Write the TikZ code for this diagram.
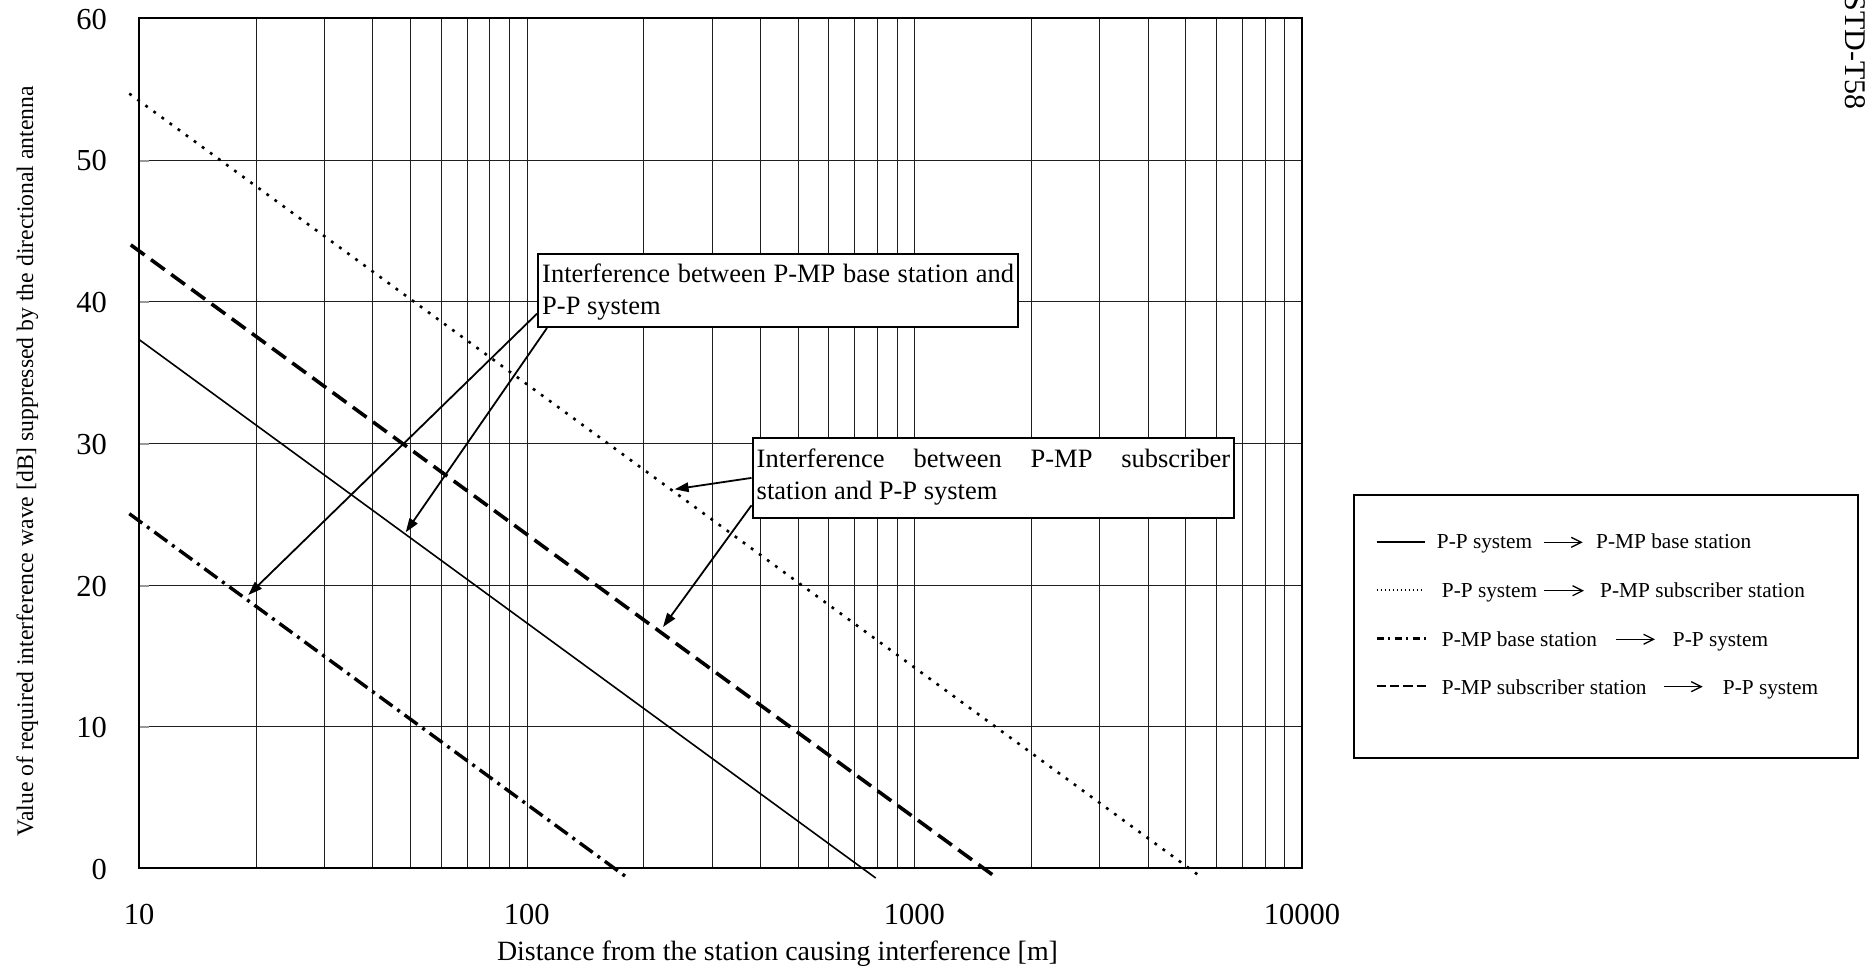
\documentclass[tikz,border=0pt]{standalone}
\usepackage{fontspec}
\setmainfont{Liberation Serif}
\usetikzlibrary{arrows.meta,calc}
\begin{document}
\begin{tikzpicture}[x=1pt,y=-1pt,
  gridline/.style={line width=1.25pt, black!88},
  framebox/.style={line width=2.4pt},
  tickstub/.style={line width=2pt, black!40},
  ticklbl/.style={inner sep=0pt, font=\fontsize{30.5}{36}\selectfont},
  notebox/.style={draw, line width=2pt, fill=white, inner ysep=0pt, inner xsep=4.2pt,
    align=left, anchor=north west, font=\fontsize{26.5}{31.6}\selectfont},
  callout/.style={line width=1.8pt, -{Triangle[length=14pt,width=9.5pt]}},
  curvePPbase/.style={line width=1.6pt},
  curvePPsub/.style={line width=2.6pt, dash pattern=on 2.8pt off 7.2pt},
  curveMPbase/.style={line width=3.4pt, dash pattern=on 16pt off 6pt on 3pt off 6pt},
  curveMPsub/.style={line width=3.6pt, dash pattern=on 17pt off 8pt},
  lgtext/.style={inner sep=0pt, anchor=base west, font=\fontsize{21.3}{25}\selectfont},
  lgarrow/.style={line width=1.3pt, -{Straight Barb[length=10pt,width=10pt]}},
]
\useasboundingbox (0,0) rectangle (1865,971);

% logarithmic grid: 10 .. 10000 m, three decades of 387.7 units,
% lines placed on pixel centres so they all render alike
\foreach \e in {0,1,2}{
  \foreach \m in {1,...,9}{
    \pgfmathsetmacro\gx{round(139+387.7*(\e+log10(\m)))+0.5}
    \draw[gridline] (\gx,17.8) -- (\gx,868);
  }
}
\foreach \v in {10,20,...,50}{
  \pgfmathsetmacro\gy{round(868-14.17*\v)+0.5}
  \draw[gridline] (139,\gy) -- (1302.1,\gy);
  \draw[tickstub] (139,\gy) -- (149,\gy);
}
\draw[framebox] (139,17.8) rectangle (1302.1,868);

% axis numbers
\foreach \v in {0,10,...,60}{
  \node[ticklbl, anchor=east] (yl\v) at (107,{869.5-14.17*\v}) {\v};
}
\foreach \e/\t in {0/10,1/100,2/1000,3/10000}{
  \node[ticklbl] (xl\e) at ({139+387.7*\e},914) {\t};
}

% axis titles
\node[inner sep=0pt, anchor=base, font=\fontsize{27.9}{33}\selectfont] (xtitle)
  at (777.5,960) {Distance from the station causing interference [m]};
\node[inner sep=0pt, anchor=base, rotate=90, font=\fontsize{23.7}{28}\selectfont] (ytitle)
  at (33,461) {Value of required interference wave [dB] suppressed by the directional antenna};

% document label on the right edge
\node[inner sep=0pt, anchor=base east, rotate=-90, font=\fontsize{30}{36}\selectfont] (docid)
  at (1845,110) {STD-T58};

% curves (-20 dB per decade)
\draw[curvePPbase] (139,339.5) -- (875.7,878);
\draw[curvePPsub]  (129.3,93.6) -- (1202.8,878.3);
\draw[curveMPbase] (129.3,513.7) -- (625.9,876.7);
\draw[curveMPsub]  (130.8,244.9) -- (997.3,878.3);

% callout boxes
\node[notebox] (noteA) at (537,252.7)
  {\rule{0pt}{29pt}\makebox[472pt][s]{Interference between P-MP base station and}\\
   P-P system\rule[-12.7pt]{0pt}{12.7pt}};
\node[notebox] (noteB) at (751.5,437)
  {\rule{0pt}{29.7pt}\makebox[473.5pt][s]{Interference between P-MP subscriber}\\
   station and P-P system\rule[-19pt]{0pt}{19pt}};

\coordinate (tipA) at (248.3,595);
\coordinate (tipB) at (405.7,532.3);
\coordinate (tipC) at (674.6,489.3);
\coordinate (tipD) at (663,627);
\draw[callout] ($(noteA.south west)+(0,-14.3)$) -- (tipA);
\draw[callout] ($(noteA.south west)+(10,0)$) -- (tipB);
\draw[callout] ($(noteB.south west)+(0,-41.4)$) -- (tipC);
\draw[callout] ($(noteB.south west)+(0,-14)$) -- (tipD);

% legend
\node[draw, line width=2pt, minimum width=504pt, minimum height=263pt, inner sep=0pt,
  anchor=north west] (legend) at (1353,494) {};

\draw[line width=2pt] (1376.7,541.7) -- (1425,541.7);
\node[lgtext] (l1a) at (1436.7,548.3) {P-P system};
\node[lgtext] (l1b) at (1596,548.3) {P-MP base station};
\draw[lgarrow] ([shift={(12,-6)}]l1a.base east) -- ([shift={(-13.3,-6)}]l1b.base west);

\draw[line width=1.3pt, dash pattern=on 1.2pt off 2.8pt] (1376.7,590) -- (1423,590);
\node[lgtext] (l2a) at (1441.7,597) {P-P system};
\node[lgtext] (l2b) at (1600,597) {P-MP subscriber station};
\draw[lgarrow] ([shift={(7,-6.3)}]l2a.base east) -- ([shift={(-16,-6.3)}]l2b.base west);

\draw[line width=2.2pt, dash pattern=on 7pt off 4.5pt on 2pt off 4.5pt] (1376.7,638.5) -- (1426,638.5);
\node[lgtext] (l3a) at (1441.7,646) {P-MP base station};
\node[lgtext] (l3b) at (1672.7,646) {P-P system};
\draw[lgarrow] ([shift={(19.3,-6.7)}]l3a.base east) -- ([shift={(-17.7,-6.7)}]l3b.base west);

\draw[line width=2.5pt, dash pattern=on 9.3pt off 4pt] (1376.7,686) -- (1426,686);
\node[lgtext] (l4a) at (1441.7,694.6) {P-MP subscriber station};
\node[lgtext] (l4b) at (1722.7,694.6) {P-P system};
\draw[lgarrow] ([shift={(17.6,-7.9)}]l4a.base east) -- ([shift={(-20,-7.9)}]l4b.base west);
\end{tikzpicture}
\end{document}
